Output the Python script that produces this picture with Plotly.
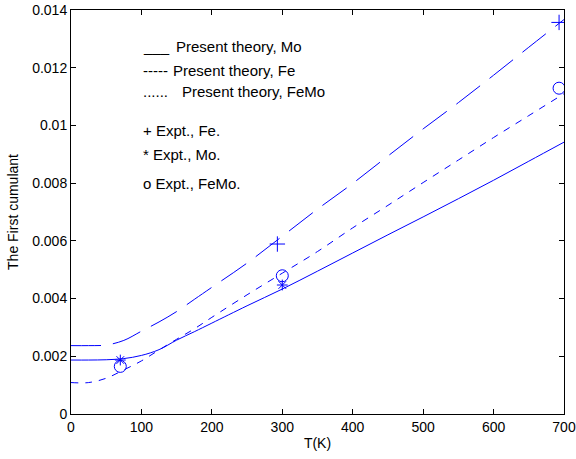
import plotly.graph_objects as go

# Theory curves
T_curve = [0, 25, 50, 75, 100, 125, 150, 175, 200, 250, 300, 350, 400, 450, 500, 550, 600, 650, 700]
mo_theory = [0.00187, 0.00187, 0.00188, 0.00192, 0.00203, 0.00223, 0.00256, 0.00285, 0.00315, 0.00375,
             0.00433, 0.00495, 0.00558, 0.00621, 0.00683, 0.00746, 0.00810, 0.00876, 0.00942]
fe_theory = [0.00237, 0.00237, 0.00239, 0.00255, 0.00287, 0.00319, 0.00355, 0.00397, 0.00439, 0.00523,
             0.00616, 0.00710, 0.00799, 0.00894, 0.00988, 0.01079, 0.01174, 0.01271, 0.01367]
femo_theory = [0.00109, 0.00109, 0.00124, 0.00153, 0.00184, 0.00222, 0.00259, 0.00295, 0.00335, 0.00413,
               0.00488, 0.00563, 0.00645, 0.00723, 0.00802, 0.00880, 0.00958, 0.01034, 0.01110]

# Experimental points
T_fe_exp = [293, 693]
fe_exp = [0.00589, 0.01357]
T_mo_exp = [70, 300]
mo_exp = [0.00187, 0.00447]
T_femo_exp = [70, 300, 693]
femo_exp = [0.00165, 0.00479, 0.01129]

xticks = [0, 100, 200, 300, 400, 500, 600, 700]
yticks = [0, 0.002, 0.004, 0.006, 0.008, 0.010, 0.012, 0.014]
yticklabels = ["0", "0.002", "0.004", "0.006", "0.008", "0.01", "0.012", "0.014"]

# Text "legend" (drawn as plain text, as in the original)
legend_keys = ["___", "-----", "......", "", "", ""]
legend_labels = ["Present theory, Mo", "Present theory, Fe", "Present theory, FeMo",
                 "+ Expt., Fe.", "* Expt., Mo.", "o Expt., FeMo."]
legend_y = [0.01275, 0.01189, 0.01116, 0.00984, 0.00898, 0.00800]
legend_label_x = [146, 142, 155, 99, 99, 99]

BLUE = "#0000ff"
FONT = "Liberation Sans, Arial, sans-serif"

fig = go.Figure()
fig.add_trace(go.Scatter(x=T_curve, y=mo_theory, mode="lines", line=dict(color=BLUE, width=1, shape="spline"), showlegend=False))
fig.add_trace(go.Scatter(x=T_curve, y=fe_theory, mode="lines", line=dict(color=BLUE, width=1, dash="30px,12px", shape="spline"), showlegend=False))
fig.add_trace(go.Scatter(x=T_curve, y=femo_theory, mode="lines", line=dict(color=BLUE, width=1, dash="7px,7px", shape="spline"), showlegend=False))
fig.add_trace(go.Scatter(x=T_fe_exp, y=fe_exp, mode="markers",
                         marker=dict(symbol="cross-thin-open", size=11, color=BLUE, line=dict(color=BLUE, width=1)), showlegend=False))
fig.add_trace(go.Scatter(x=T_mo_exp, y=mo_exp, mode="markers",
                         marker=dict(symbol="asterisk-open", size=9, color=BLUE, line=dict(color=BLUE, width=1)), showlegend=False))
fig.add_trace(go.Scatter(x=T_femo_exp, y=femo_exp, mode="markers",
                         marker=dict(symbol="circle-open", size=12, color=BLUE, line=dict(color=BLUE, width=1)), showlegend=False))

for key, lab, yv, lx in zip(legend_keys, legend_labels, legend_y, legend_label_x):
    if key:
        fig.add_annotation(x=99, y=yv, xref="x", yref="y", text=key, showarrow=False,
                           xanchor="left", yanchor="middle", font=dict(family=FONT, size=15, color="black"))
    fig.add_annotation(x=lx, y=yv, xref="x", yref="y", text=lab, showarrow=False,
                       xanchor="left", yanchor="middle", font=dict(family=FONT, size=15, color="black"))

axis_common = dict(showline=True, linecolor="black", linewidth=1, mirror="ticks", ticks="inside",
                   ticklen=5, tickcolor="black", showgrid=False, zeroline=False, automargin=False,
                   tickfont=dict(family=FONT, size=14, color="black"))
fig.update_xaxes(range=[0, 700], tickvals=xticks,
                 title=dict(text="T(K)", font=dict(family=FONT, size=14, color="black"), standoff=4), **axis_common)
fig.update_yaxes(range=[0, 0.014], tickvals=yticks, ticktext=yticklabels,
                 title=dict(text="The First cumulant", font=dict(family=FONT, size=14, color="black"), standoff=10), **axis_common)

fig.update_layout(width=576, height=459, margin=dict(l=71, r=12, t=10, b=45),
                  paper_bgcolor="white", plot_bgcolor="white", font=dict(family=FONT))
fig.write_html("out.html", config={"displayModeBar": False},
               post_script="document.body.style.margin='0';")
